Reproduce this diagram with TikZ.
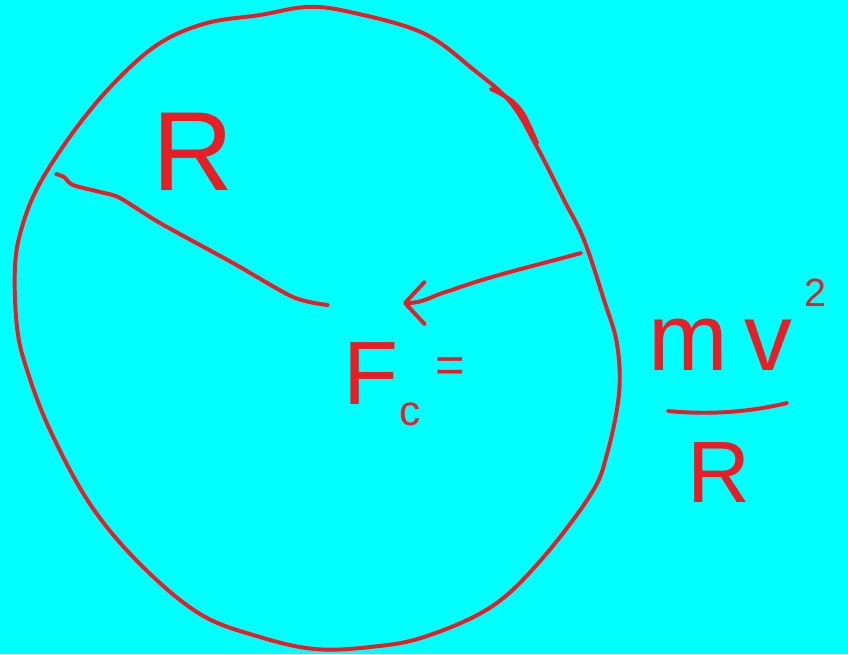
\documentclass[tikz,border=0pt]{standalone}
\usepackage{fontspec}
\setmainfont{Liberation Sans}
\usepackage{tikz}
\usetikzlibrary{arrows.meta}
\definecolor{boardcyan}{RGB}{0,255,255}
\definecolor{penred}{RGB}{236,28,36}

\begin{document}
\begin{tikzpicture}[x=0.025cm, y=-0.025cm, >=stealth,
    pen/.style={draw=penred, line width=2.8pt, line cap=round, line join=round},
    handtext/.style={text=penred, inner sep=0pt}]
				% 背景
				\fill[boardcyan] (0,0) rectangle (848,654);
				\useasboundingbox (0,0) rectangle (848,654);
				
				% 圆周
				\draw[pen] plot[smooth cycle, tension=0.6] coordinates {(307,7) (350,12) (423,33) (474,70) (511,103) (537,147) (564,200) (584,240) (604,300) (617,344) (619,394) (607,454) (591,494) (541,560) (491,607) (424,637) (370,647) (315,649) (260,637) (200,614) (140,564) (90,504) (50,430) (27,370) (17,327) (15,267) (22,227) (40,183) (77,127) (117,80) (160,43) (207,23) (260,15)};
				\draw[pen] plot[smooth] coordinates {(491,89) (511,100) (524,115) (537,143)};
				
				% 半径 R
				\draw[pen] plot[smooth] coordinates {(56,174) (64,177) (73,185) (100,192) (120,198) (160,223) (233,263) (293,297) (328,305)};
				\node[handtext, font=\fontsize{80}{80}\selectfont, anchor=base] (radius) at (193,190) {R};
				
				% 向心力箭头
				\coordinate (rim) at (581,253);
				\coordinate (bend) at (452,290);
				\coordinate (tip) at (403,303);
				\draw[pen, -{Straight Barb[length=14pt, width=30pt, round]}] (rim) .. controls (530,267) and (490,276) .. (bend) .. controls (430,296) and (425,303) .. (tip);
				
				% F_c =
				\node[handtext, font=\fontsize{64}{64}\selectfont, anchor=base west] (force) at (343,404) {F\kern1pt\raisebox{-15pt}{\fontsize{30}{30}\selectfont c}};
				\node[handtext, font=\fontsize{36}{36}\selectfont] (equals) at (450,370) {=};
				
				% mv^2 / R
				\node[handtext, font=\fontsize{68}{68}\selectfont, anchor=base] (mass) at (688,370) {m};
				\node[handtext, font=\fontsize{68}{68}\selectfont, anchor=base] (speed) at (768,370) {v};
				\node[handtext, font=\fontsize{28}{28}\selectfont, anchor=base] (square) at (815,306) {2};
				\coordinate (barL) at (668,411);
				\coordinate (barR) at (787,403);
				\draw[pen] (barL) .. controls (710,415) and (750,412) .. (barR);
				\node[handtext, font=\fontsize{62}{62}\selectfont, anchor=base] (denom) at (719,502) {R};
			\end{tikzpicture}
\end{document}
